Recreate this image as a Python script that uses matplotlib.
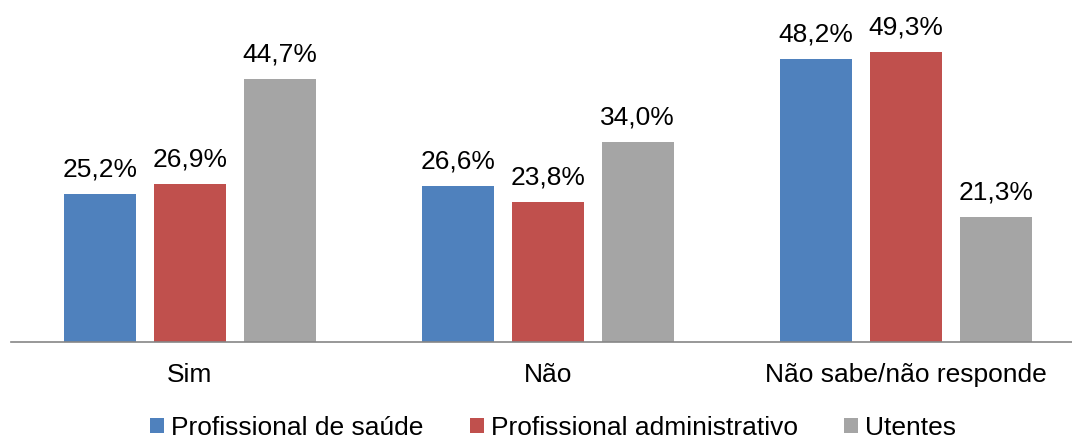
import matplotlib
matplotlib.use("Agg")
import matplotlib.pyplot as plt
import numpy as np
from matplotlib.patches import Patch

categories = ["Sim", "Não", "Não sabe/não responde"]
series_names = ["Profissional de saúde", "Profissional administrativo", "Utentes"]
saude = [25.2, 26.6, 48.2]
administrativo = [26.9, 23.8, 49.3]
utentes = [44.7, 34.0, 21.3]
colors = ["#4F81BD", "#C0504D", "#A5A5A5"]

plt.rcParams['font.family'] = ['Liberation Sans', 'DejaVu Sans']

fig = plt.figure(figsize=(10.72, 4.38), dpi=100)
W, H = 1072, 438
left_px, right_px = 11, 1085
ax = fig.add_axes([left_px / W, 1 - 342 / H, (right_px - left_px) / W, 342 / H])

x = np.arange(len(categories))
width = 0.201
step = 0.251
for i, (vals, c) in enumerate(zip([saude, administrativo, utentes], colors)):
    bars = ax.bar(x + (i - 1) * step, vals, width, color=c)
    for b, v in zip(bars, vals):
        ax.annotate(f"{v:.1f}%".replace(".", ","), (b.get_x() + b.get_width() / 2, v),
                    xytext=(0, 9), textcoords="offset points", ha="center", va="bottom",
                    fontsize=19, color="black")

ax.set_xlim(-0.5, 2.5)
ax.set_ylim(0, 58.2)
ax.set_xticks(x)
ax.set_xticklabels(categories, fontsize=19)
ax.tick_params(axis='x', length=0, pad=15)
ax.set_yticks([])
for s in ["top", "right", "left"]:
    ax.spines[s].set_visible(False)
ax.spines["bottom"].set_color("#868686")
ax.spines["bottom"].set_linewidth(1.2)

handles = [Patch(facecolor=c, edgecolor='none') for c in colors]
fig.legend(handles, series_names, loc="center", bbox_to_anchor=(0.5 + 17 / W, 1 - 428 / H), ncol=3,
           frameon=False, fontsize=19, handlelength=0.53, handleheight=0.53,
           handletextpad=0.27, columnspacing=1.75, borderpad=0)

fig.savefig("out.png", dpi=100)
